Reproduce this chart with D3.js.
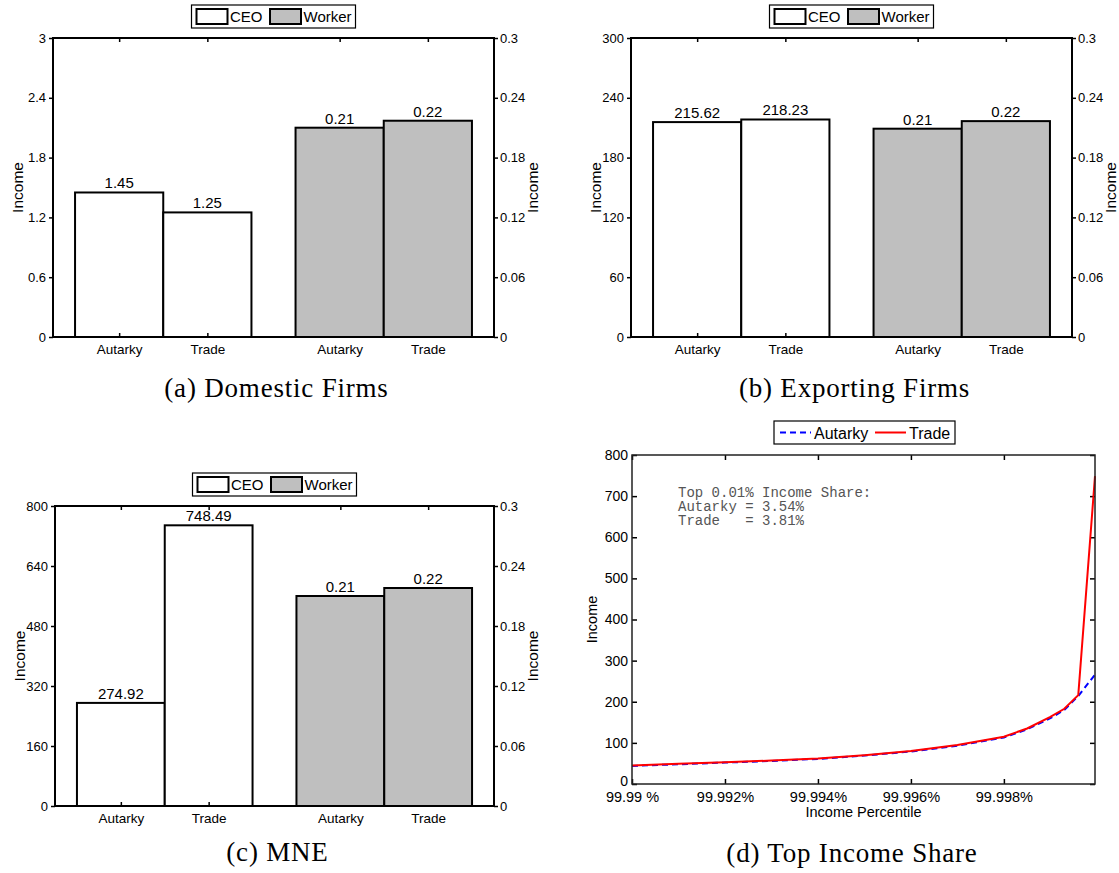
<!DOCTYPE html>
<html>
<head>
<meta charset="utf-8">
<script src="https://cdn.jsdelivr.net/npm/d3@7"></script>
<style>
  body { margin: 0; background: #fff; }
  svg { display: block; font-family: "Liberation Sans", Arial, sans-serif; }
  .caption { font-family: "Liberation Serif", "Times New Roman", serif; font-size: 27px; letter-spacing: 0.8px; }
</style>
</head>
<body>
<div id="content"></div>
<script>
// bar panels: CEO on the left axis, Worker on the right axis
const scenarios = ["Autarky", "Trade"];
const series = ["CEO", "Worker"];

const domesticCEO = [1.45, 1.25];
const domesticWorker = [0.21, 0.217];
const exportingCEO = [215.62, 218.23];
const exportingWorker = [0.209, 0.2166];
const mneCEO = [274.92, 748.49];
const mneWorker = [0.21, 0.218];

const domesticTicks = [0, 0.6, 1.2, 1.8, 2.4, 3];
const exportingTicks = [0, 60, 120, 180, 240, 300];
const mneTicks = [0, 160, 320, 480, 640, 800];
const workerTicks = [0, 0.06, 0.12, 0.18, 0.24, 0.3];

// top income share panel
const percentiles = [99.99, 99.991, 99.992, 99.993, 99.994, 99.995, 99.996, 99.997, 99.998, 99.9985, 99.999, 99.9993, 99.9996, 99.99996];
const autarkyIncome = [44, 48, 52, 56, 61, 69, 79, 93, 113, 133, 160, 180, 214, 266];
const tradeIncome = [45, 49, 53, 57, 62, 70, 80, 95, 115, 135, 163, 183, 216, 748.49];
const incomeTicks = [0, 100, 200, 300, 400, 500, 600, 700, 800];
const percentileTicks = [99.99, 99.992, 99.994, 99.996, 99.998];
const percentileLabels = ["99.99 %", "99.992%", "99.994%", "99.996%", "99.998%"];
const shareNote = ["Top 0.01% Income Share:", "Autarky = 3.54%", "Trade   = 3.81%"];

const svg = d3.select("#content").append("svg")
  .attr("width", 1119)
  .attr("height", 873);

function styleAxis(sel, size) {
  sel.attr("font-family", null).attr("font-size", size);
  sel.select(".domain").remove();
  sel.selectAll("line").attr("stroke-width", 1.5);
  sel.selectAll("text").attr("fill", "#000");
}

function barPanel(box, ceo, worker, ceoTicks, caption, captionY) {
  const g = svg.append("g");
  const x = d3.scaleLinear().domain([0.5, 2.5]).range([box.left, box.right]);
  const yL = d3.scaleLinear().domain([0, d3.max(ceoTicks)]).range([box.bottom, box.top]);
  const yR = d3.scaleLinear().domain([0, d3.max(workerTicks)]).range([box.bottom, box.top]);
  const bw = 0.4;

  const bars = [];
  series.forEach((s, i) => {
    scenarios.forEach((sc, j) => {
      bars.push({
        series: s,
        scenario: sc,
        center: i + 1 + (j - 0.5) * bw,
        value: (i === 0 ? ceo : worker)[j],
      });
    });
  });
  const yOf = (d) => (d.series === "CEO" ? yL(d.value) : yR(d.value));

  const drawBars = (s, fill) => {
    g.append("g")
      .selectAll("rect")
      .data(bars.filter((d) => d.series === s))
      .enter()
      .append("rect")
      .attr("x", (d) => x(d.center - bw / 2))
      .attr("y", yOf)
      .attr("width", (d) => x(d.center + bw / 2) - x(d.center - bw / 2))
      .attr("height", (d) => box.bottom - yOf(d))
      .attr("fill", fill)
      .attr("stroke", "#000")
      .attr("stroke-width", 2);
  };

  drawBars("CEO", "#fff");

  // ticks at bar centres (inside), under the worker bars
  g.append("g")
    .attr("transform", `translate(0,${box.bottom})`)
    .call(d3.axisBottom(x).tickValues(bars.map((d) => d.center))
      .tickFormat((d, i) => bars[i].scenario).tickSize(-4).tickPadding(7))
    .call(styleAxis, 13.5);
  g.append("g")
    .attr("transform", `translate(0,${box.top})`)
    .call(d3.axisTop(x).tickValues(bars.map((d) => d.center)).tickFormat("").tickSize(-4))
    .call(styleAxis, 13);

  drawBars("Worker", "#bfbfbf");

  g.append("g")
    .attr("transform", `translate(${box.left},0)`)
    .call(d3.axisLeft(yL).tickValues(ceoTicks).tickFormat(d3.format("")).tickSize(4).tickPadding(3))
    .call(styleAxis, 13);
  g.append("g")
    .attr("transform", `translate(${box.right},0)`)
    .call(d3.axisRight(yR).tickValues(workerTicks).tickFormat(d3.format("")).tickSize(4).tickPadding(2))
    .call(styleAxis, 13);

  g.append("rect")
    .attr("x", box.left).attr("y", box.top)
    .attr("width", box.right - box.left).attr("height", box.bottom - box.top)
    .attr("fill", "none").attr("stroke", "#000").attr("stroke-width", 2);

  // value labels
  g.append("g")
    .selectAll("text")
    .data(bars)
    .enter()
    .append("text")
    .attr("x", (d) => x(d.center))
    .attr("y", (d) => yOf(d) - 4)
    .attr("text-anchor", "middle")
    .attr("font-size", 15)
    .text((d) => d3.format(".2f")(d.value));

  // axis titles
  const midY = (box.top + box.bottom) / 2;
  g.append("text")
    .attr("transform", `translate(${box.left - 35},${midY}) rotate(-90)`)
    .attr("text-anchor", "middle").attr("dy", "0.35em")
    .attr("font-size", 15.5).text("Income");
  g.append("text")
    .attr("transform", `translate(${box.right + 39},${midY}) rotate(-90)`)
    .attr("text-anchor", "middle").attr("dy", "0.35em")
    .attr("font-size", 15.5).text("Income");

  // legend
  const cx = (box.left + box.right) / 2;
  const lg = g.append("g").attr("transform", `translate(${cx - 82},${box.top - 33})`);
  lg.append("rect").attr("width", 164).attr("height", 23)
    .attr("fill", "#fff").attr("stroke", "#000").attr("stroke-width", 1.2);
  const items = [
    { name: series[0], fill: "#fff", px: 5, tx: 38.5 },
    { name: series[1], fill: "#bfbfbf", px: 78.5, tx: 112 },
  ];
  items.forEach((it) => {
    lg.append("rect").attr("x", it.px).attr("y", 4).attr("width", 31).attr("height", 15)
      .attr("fill", it.fill).attr("stroke", "#000").attr("stroke-width", 2);
    lg.append("text").attr("x", it.tx).attr("y", 17).attr("font-size", 15).text(it.name);
  });

  g.append("text")
    .attr("class", "caption")
    .attr("x", cx + 3).attr("y", captionY)
    .attr("text-anchor", "middle")
    .text(caption);
}

barPanel({ left: 53, right: 494, top: 38, bottom: 337 }, domesticCEO, domesticWorker, domesticTicks, "(a) Domestic Firms", 397);
barPanel({ left: 631, right: 1072, top: 38, bottom: 337 }, exportingCEO, exportingWorker, exportingTicks, "(b) Exporting Firms", 397);
barPanel({ left: 55, right: 494, top: 506, bottom: 806 }, mneCEO, mneWorker, mneTicks, "(c) MNE", 861);

// (d) Top Income Share
(function () {
  const box = { left: 632, right: 1095, top: 455, bottom: 784 };
  const g = svg.append("g");
  const x = d3.scaleLinear().domain([percentiles[0], percentiles[percentiles.length - 1]]).range([box.left, box.right]);
  const y = d3.scaleLinear().domain([0, 800]).range([box.bottom, box.top]);

  g.append("g").attr("transform", `translate(0,${box.bottom})`)
    .call(d3.axisBottom(x).tickValues(percentileTicks).tickFormat((d, i) => percentileLabels[i]).tickSize(-5).tickPadding(8))
    .call(styleAxis, 14.5);
  g.append("g").attr("transform", `translate(0,${box.top})`)
    .call(d3.axisTop(x).tickValues(percentileTicks).tickFormat("").tickSize(-5))
    .call(styleAxis, 14);
  const yAxis = g.append("g").attr("transform", `translate(${box.left},0)`)
    .call(d3.axisLeft(y).tickValues(incomeTicks).tickFormat(d3.format("")).tickSize(-5).tickPadding(4))
    .call(styleAxis, 14);
  // lift the zero label a little, it sits right above the first percentile label
  yAxis.selectAll(".tick text").filter((d) => d === 0).attr("dy", "0.1em");
  g.append("g").attr("transform", `translate(${box.right},0)`)
    .call(d3.axisRight(y).tickValues(incomeTicks).tickFormat("").tickSize(-5))
    .call(styleAxis, 14);

  const line = d3.line().x((d) => x(d[0])).y((d) => y(d[1]));
  g.append("path")
    .datum(d3.zip(percentiles, autarkyIncome))
    .attr("d", line)
    .attr("fill", "none").attr("stroke", "#0000ff").attr("stroke-width", 2)
    .attr("stroke-dasharray", "6,4");
  g.append("path")
    .datum(d3.zip(percentiles, tradeIncome))
    .attr("d", line)
    .attr("fill", "none").attr("stroke", "#ff0000").attr("stroke-width", 2);

  g.append("rect")
    .attr("x", box.left).attr("y", box.top)
    .attr("width", box.right - box.left).attr("height", box.bottom - box.top)
    .attr("fill", "none").attr("stroke", "#222").attr("stroke-width", 1.5);

  const note = g.append("text")
    .attr("font-family", "'Liberation Mono', 'Courier New', monospace")
    .attr("font-size", 14).attr("fill", "#555")
    .style("white-space", "pre");
  shareNote.forEach((t, i) => {
    note.append("tspan").attr("x", 678).attr("y", 497 + i * 14).text(t);
  });

  g.append("text")
    .attr("x", (box.left + box.right) / 2).attr("y", 817)
    .attr("text-anchor", "middle").attr("font-size", 14.5)
    .text("Income Percentile");
  g.append("text")
    .attr("transform", `translate(${box.left - 40},${(box.top + box.bottom) / 2}) rotate(-90)`)
    .attr("text-anchor", "middle").attr("dy", "0.35em")
    .attr("font-size", 14.5).text("Income");

  // legend
  const lg = g.append("g").attr("transform", `translate(774,421)`);
  lg.append("rect").attr("width", 181).attr("height", 23)
    .attr("fill", "#fff").attr("stroke", "#000").attr("stroke-width", 1.2);
  lg.append("line").attr("x1", 6).attr("x2", 37).attr("y1", 11.5).attr("y2", 11.5)
    .attr("stroke", "#0000ff").attr("stroke-width", 2).attr("stroke-dasharray", "6,4");
  lg.append("text").attr("x", 40).attr("y", 17.5).attr("font-size", 16).text("Autarky");
  lg.append("line").attr("x1", 101).attr("x2", 132).attr("y1", 11.5).attr("y2", 11.5)
    .attr("stroke", "#ff0000").attr("stroke-width", 2);
  lg.append("text").attr("x", 135).attr("y", 17.5).attr("font-size", 16).text("Trade");

  g.append("text")
    .attr("class", "caption")
    .attr("x", 852).attr("y", 862)
    .attr("text-anchor", "middle")
    .text("(d) Top Income Share");
})();
</script>
</body>
</html>
